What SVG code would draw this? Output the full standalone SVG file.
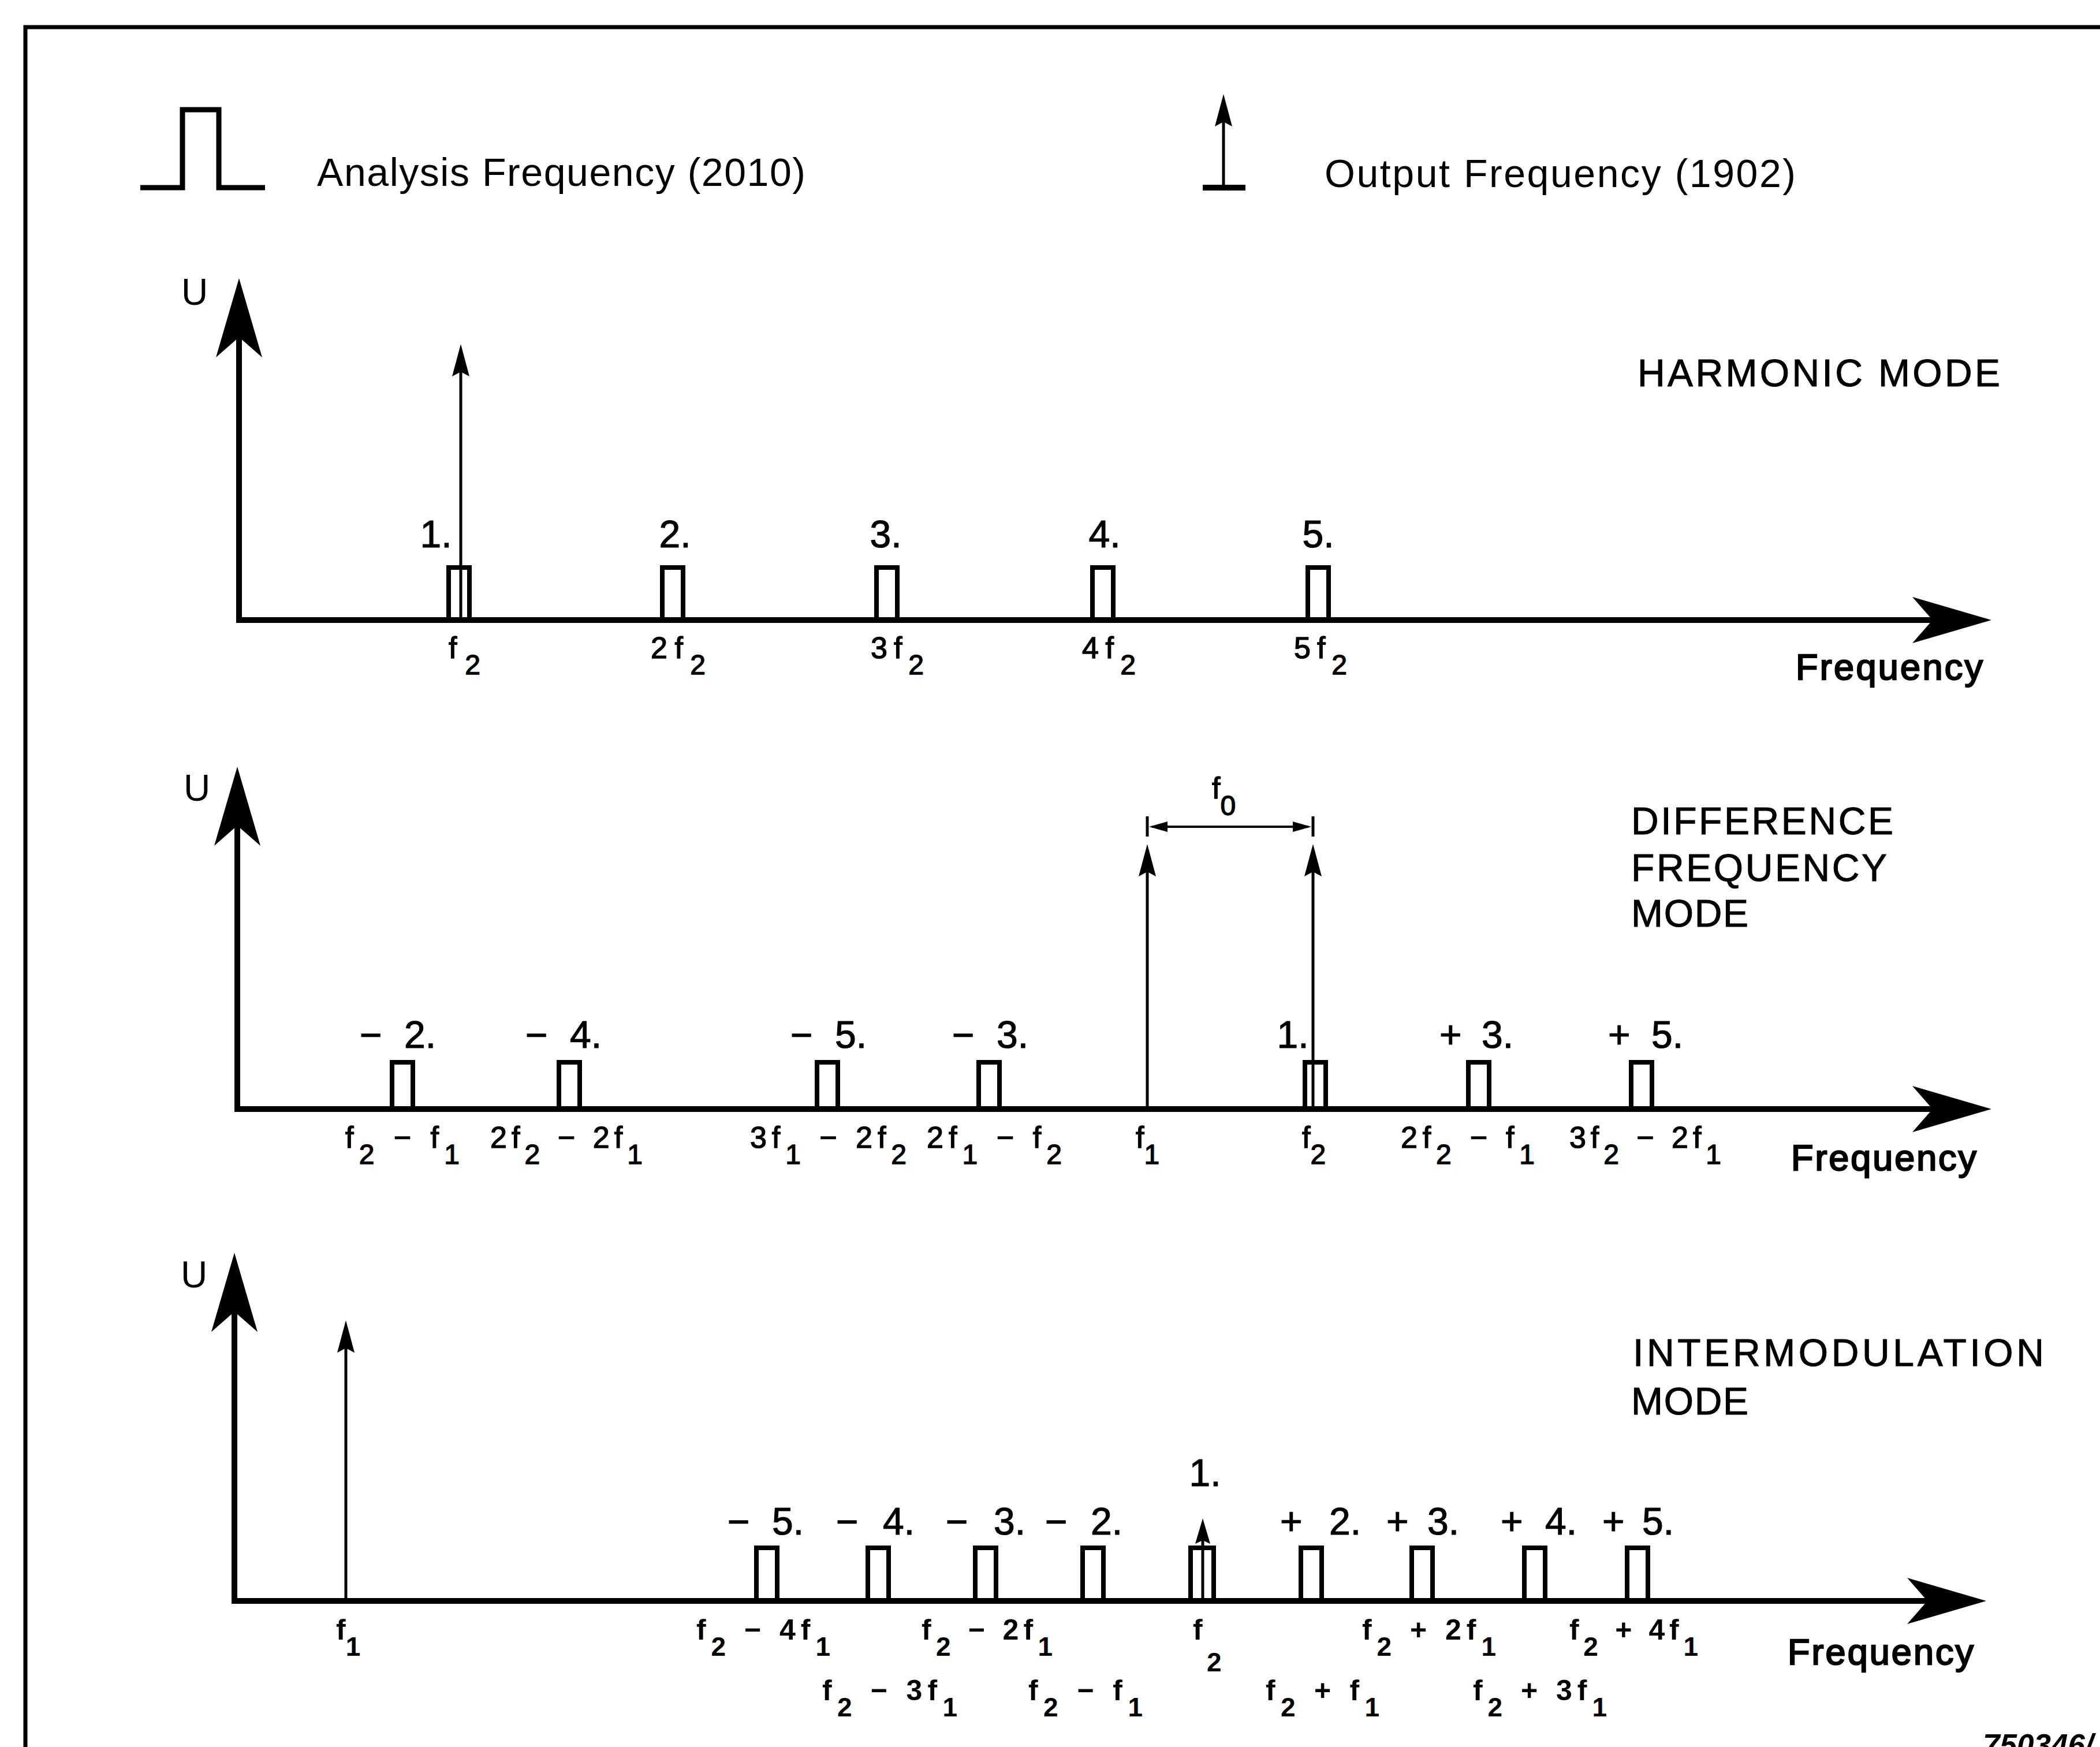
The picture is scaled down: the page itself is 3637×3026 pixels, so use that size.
<svg xmlns="http://www.w3.org/2000/svg" width="3637" height="3026" viewBox="0 0 3637 3026">
<style>
.fr{stroke:#000;stroke-width:7;fill:none}
.ax{stroke:#000;stroke-width:10;fill:none}
.pl{stroke:#000;stroke-width:8;fill:none;stroke-linejoin:miter}
.st{stroke:#000;stroke-width:5;fill:none}
.t{font-family:"Liberation Sans",Arial,Helvetica,sans-serif;fill:#000}
.lab{font-size:66px;stroke:#000;stroke-width:1.2}
.fl{font-size:52px;stroke:#000;stroke-width:1.4}
.fl3{font-size:50px;font-weight:bold}
.sub{font-size:48px}
.sub3{font-size:46px}
.ttl{font-size:66px;stroke:#000;stroke-width:1}
.leg{font-size:68px}
.frq{font-size:63px;stroke:#000;stroke-width:2.4}
.u{font-size:64px}
.mid{text-anchor:middle}
</style>
<defs>
<marker id="big" markerUnits="userSpaceOnUse" viewBox="-40 -45 150 90" markerWidth="150" markerHeight="90" refX="0" refY="0" orient="auto" overflow="visible">
<path d="M102,0 L-35,-40 L0,0 L-35,40 Z" fill="#000"/>
</marker>
<marker id="sm" markerUnits="userSpaceOnUse" viewBox="-10 -16 60 32" markerWidth="60" markerHeight="32" refX="0" refY="0" orient="auto" overflow="visible">
<path d="M48,0 L-8,-15 L0,0 L-8,15 Z" fill="#000"/>
</marker>
<marker id="sm2" markerUnits="userSpaceOnUse" viewBox="-10 -14 50 28" markerWidth="50" markerHeight="28" refX="0" refY="0" orient="auto" overflow="visible">
<path d="M38,0 L-6,-13 L0,0 L-6,13 Z" fill="#000"/>
</marker>
</defs>

<rect x="0" y="0" width="3637" height="3026" fill="#fff"/>

<g id="frame">
<path class="fr" d="M44,3026 V47 H3637"/>
</g>

<g id="legend">
<g id="legend-analysis">
<path d="M243,325 H316 V190 H379 V325 H459" stroke="#000" stroke-width="9" fill="none"/>
<text class="t leg" x="549" y="322" textLength="846" lengthAdjust="spacing">Analysis Frequency (2010)</text>
</g>
<g id="legend-output">
<line x1="2083" y1="325" x2="2157" y2="325" stroke="#000" stroke-width="10"/>
<line class="st" x1="2119" y1="325" x2="2119" y2="211" marker-end="url(#sm)"/>
<text class="t leg" x="2294" y="324" textLength="816" lengthAdjust="spacing">Output Frequency (1902)</text>
</g>
</g>

<g id="connectors">
<g id="axes">
<line class="ax" x1="414" y1="1074" x2="414" y2="584" marker-end="url(#big)"/>
<line class="ax" x1="409" y1="1074" x2="3347" y2="1074" marker-end="url(#big)"/>
<line class="ax" x1="411" y1="1921" x2="411" y2="1430" marker-end="url(#big)"/>
<line class="ax" x1="406" y1="1921" x2="3347" y2="1921" marker-end="url(#big)"/>
<line class="ax" x1="406" y1="2773" x2="406" y2="2272" marker-end="url(#big)"/>
<line class="ax" x1="401" y1="2773" x2="3338" y2="2773" marker-end="url(#big)"/>
</g>
<g id="output-arrows">
<line class="st" x1="798" y1="1074" x2="798" y2="644" marker-end="url(#sm)"/>
<line class="st" x1="1987" y1="1921" x2="1987" y2="1510" marker-end="url(#sm)"/>
<line class="st" x1="2274" y1="1921" x2="2274" y2="1510" marker-end="url(#sm)"/>
<line class="st" x1="599" y1="2773" x2="599" y2="2335" marker-end="url(#sm)"/>
<line class="st" x1="2083" y1="2773" x2="2083" y2="2668" marker-end="url(#sm2)"/>
</g>
<g id="f0-dimension">
<line x1="1995" y1="1432" x2="2266" y2="1432" stroke="#000" stroke-width="4"/>
<line class="st" x1="1987" y1="1414" x2="1987" y2="1449"/>
<line class="st" x1="2274" y1="1414" x2="2274" y2="1449"/>
<path d="M1990,1432 L2022,1423 L2022,1441 Z" fill="#000"/>
<path d="M2271,1432 L2239,1423 L2239,1441 Z" fill="#000"/>
</g>
</g>

<g id="harmonic-mode">
<text class="t u" x="314" y="528">U</text>
<text class="t ttl" x="2836" y="669" textLength="628" lengthAdjust="spacing">HARMONIC MODE</text>
<text class="t frq" x="3110" y="1177" textLength="324" lengthAdjust="spacing">Frequency</text>
<g id="h1"><path class="pl" d="M777,1074 V983 H813 V1074"/><text class="t lab mid" x="755" y="948">1.</text><text class="t fl" x="777" y="1140" textLength="55" lengthAdjust="spacing">f<tspan class="sub" dy="28">2</tspan></text></g>
<g id="h2"><path class="pl" d="M1147,1074 V983 H1183 V1074"/><text class="t lab mid" x="1169" y="948">2.</text><text class="t fl" x="1127" y="1140" textLength="95" lengthAdjust="spacing">2f<tspan class="sub" dy="28">2</tspan></text></g>
<g id="h3"><path class="pl" d="M1518,1074 V983 H1554 V1074"/><text class="t lab mid" x="1534" y="948">3.</text><text class="t fl" x="1508" y="1140" textLength="92" lengthAdjust="spacing">3f<tspan class="sub" dy="28">2</tspan></text></g>
<g id="h4"><path class="pl" d="M1892,1074 V983 H1928 V1074"/><text class="t lab mid" x="1913" y="948">4.</text><text class="t fl" x="1874" y="1140" textLength="93" lengthAdjust="spacing">4f<tspan class="sub" dy="28">2</tspan></text></g>
<g id="h5"><path class="pl" d="M2265,1074 V983 H2301 V1074"/><text class="t lab mid" x="2283" y="948">5.</text><text class="t fl" x="2241" y="1140" textLength="92" lengthAdjust="spacing">5f<tspan class="sub" dy="28">2</tspan></text></g>
</g>

<g id="difference-frequency-mode">
<text class="t u" x="318" y="1387">U</text>
<text class="t ttl" x="2825" y="1445" textLength="454" lengthAdjust="spacing">DIFFERENCE</text>
<text class="t ttl" x="2825" y="1526" textLength="443" lengthAdjust="spacing">FREQUENCY</text>
<text class="t ttl" x="2825" y="1605" textLength="203" lengthAdjust="spacing">MODE</text>
<text class="t frq" x="3102" y="2027" textLength="321" lengthAdjust="spacing">Frequency</text>
<text class="t fl" x="2099" y="1383" font-size="54">f<tspan class="sub" dy="29" font-size="48">0</tspan></text>
<g id="d-m2"><path class="pl" d="M679,1921 V1840 H715 V1921"/><text class="t lab mid" x="689" y="1815">− <tspan dx="20">2.</tspan></text><text class="t fl" x="598" y="1988" textLength="198" lengthAdjust="spacing">f<tspan class="sub" dy="28">2</tspan><tspan dy="-28"> − f</tspan><tspan class="sub" dy="28">1</tspan></text></g>
<g id="d-m4"><path class="pl" d="M968,1921 V1840 H1004 V1921"/><text class="t lab mid" x="976" y="1815">− <tspan dx="20">4.</tspan></text><text class="t fl" x="849" y="1988" textLength="264" lengthAdjust="spacing">2f<tspan class="sub" dy="28">2</tspan><tspan dy="-28"> − 2f</tspan><tspan class="sub" dy="28">1</tspan></text></g>
<g id="d-m5"><path class="pl" d="M1415,1921 V1840 H1451 V1921"/><text class="t lab mid" x="1435" y="1815">− <tspan dx="20">5.</tspan></text><text class="t fl" x="1299" y="1988" textLength="271" lengthAdjust="spacing">3f<tspan class="sub" dy="28">1</tspan><tspan dy="-28"> − 2f</tspan><tspan class="sub" dy="28">2</tspan></text></g>
<g id="d-m3"><path class="pl" d="M1695,1921 V1840 H1731 V1921"/><text class="t lab mid" x="1715" y="1815">− <tspan dx="20">3.</tspan></text><text class="t fl" x="1605" y="1988" textLength="234" lengthAdjust="spacing">2f<tspan class="sub" dy="28">1</tspan><tspan dy="-28"> − f</tspan><tspan class="sub" dy="28">2</tspan></text></g>
<g id="d-f1"><text class="t fl" x="1967" y="1988">f<tspan class="sub" dy="28">1</tspan></text></g>
<g id="d-1"><path class="pl" d="M2260,1921 V1840 H2296 V1921"/><text class="t lab mid" x="2239" y="1815">1.</text><text class="t fl" x="2255" y="1988">f<tspan class="sub" dy="28">2</tspan></text></g>
<g id="d-p3"><path class="pl" d="M2543,1921 V1840 H2579 V1921"/><text class="t lab mid" x="2557" y="1815">+ <tspan dx="16">3.</tspan></text><text class="t fl" x="2426" y="1988" textLength="232" lengthAdjust="spacing">2f<tspan class="sub" dy="28">2</tspan><tspan dy="-28"> − f</tspan><tspan class="sub" dy="28">1</tspan></text></g>
<g id="d-p5"><path class="pl" d="M2825,1921 V1840 H2861 V1921"/><text class="t lab mid" x="2850" y="1815">+ <tspan dx="18">5.</tspan></text><text class="t fl" x="2718" y="1988" textLength="263" lengthAdjust="spacing">3f<tspan class="sub" dy="28">2</tspan><tspan dy="-28"> − 2f</tspan><tspan class="sub" dy="28">1</tspan></text></g>
</g>

<g id="intermodulation-mode">
<text class="t u" x="313" y="2230">U</text>
<text class="t ttl" x="2828" y="2366" textLength="712" lengthAdjust="spacing">INTERMODULATION</text>
<text class="t ttl" x="2825" y="2450" textLength="203" lengthAdjust="spacing">MODE</text>
<text class="t frq" x="3096" y="2883" textLength="322" lengthAdjust="spacing">Frequency</text>
<g id="i-f1"><text class="t fl3" x="582" y="2840">f<tspan class="sub3" dy="28">1</tspan></text></g>
<g id="i-m5"><path class="pl" d="M1310,2773 V2681 H1346 V2773"/><text class="t lab mid" x="1326" y="2658">− <tspan dx="20">5.</tspan></text><text class="t fl3" x="1206" y="2840" textLength="232" lengthAdjust="spacing">f<tspan class="sub3" dy="28">2</tspan><tspan dy="-28"> − 4f</tspan><tspan class="sub3" dy="28">1</tspan></text></g>
<g id="i-m4"><path class="pl" d="M1503,2773 V2681 H1539 V2773"/><text class="t lab mid" x="1516" y="2658">− <tspan dx="24">4.</tspan></text><text class="t fl3" x="1424" y="2945" textLength="234" lengthAdjust="spacing">f<tspan class="sub3" dy="28">2</tspan><tspan dy="-28"> − 3f</tspan><tspan class="sub3" dy="28">1</tspan></text></g>
<g id="i-m3"><path class="pl" d="M1689,2773 V2681 H1725 V2773"/><text class="t lab mid" x="1707" y="2658">− <tspan dx="26">3.</tspan></text><text class="t fl3" x="1596" y="2840" textLength="227" lengthAdjust="spacing">f<tspan class="sub3" dy="28">2</tspan><tspan dy="-28"> − 2f</tspan><tspan class="sub3" dy="28">1</tspan></text></g>
<g id="i-m2"><path class="pl" d="M1875,2773 V2681 H1911 V2773"/><text class="t lab mid" x="1877" y="2658">− <tspan dx="22">2.</tspan></text><text class="t fl3" x="1781" y="2945" textLength="198" lengthAdjust="spacing">f<tspan class="sub3" dy="28">2</tspan><tspan dy="-28"> − f</tspan><tspan class="sub3" dy="28">1</tspan></text></g>
<g id="i-1"><path class="pl" d="M2062,2773 V2681 H2102 V2773"/><text class="t lab mid" x="2087" y="2574">1.</text><text class="t fl3" x="2066" y="2840">f<tspan class="sub3" x="2090" dy="55">2</tspan></text></g>
<g id="i-p2"><path class="pl" d="M2253,2773 V2681 H2289 V2773"/><text class="t lab mid" x="2287" y="2658">+ <tspan dx="28">2.</tspan></text><text class="t fl3" x="2192" y="2945" textLength="197" lengthAdjust="spacing">f<tspan class="sub3" dy="28">2</tspan><tspan dy="-28"> + f</tspan><tspan class="sub3" dy="28">1</tspan></text></g>
<g id="i-p3"><path class="pl" d="M2445,2773 V2681 H2481 V2773"/><text class="t lab mid" x="2464" y="2658">+ <tspan dx="14">3.</tspan></text><text class="t fl3" x="2359" y="2840" textLength="232" lengthAdjust="spacing">f<tspan class="sub3" dy="28">2</tspan><tspan dy="-28"> + 2f</tspan><tspan class="sub3" dy="28">1</tspan></text></g>
<g id="i-p4"><path class="pl" d="M2640,2773 V2681 H2676 V2773"/><text class="t lab mid" x="2665" y="2658">+ <tspan dx="20">4.</tspan></text><text class="t fl3" x="2551" y="2945" textLength="232" lengthAdjust="spacing">f<tspan class="sub3" dy="28">2</tspan><tspan dy="-28"> + 3f</tspan><tspan class="sub3" dy="28">1</tspan></text></g>
<g id="i-p5"><path class="pl" d="M2818,2773 V2681 H2854 V2773"/><text class="t lab mid" x="2837" y="2658">+ <tspan dx="12">5.</tspan></text><text class="t fl3" x="2718" y="2840" textLength="223" lengthAdjust="spacing">f<tspan class="sub3" dy="28">2</tspan><tspan dy="-28"> + 4f</tspan><tspan class="sub3" dy="28">1</tspan></text></g>
</g>

<g id="figure-number">
<text class="t" x="3434" y="3041" font-size="53" font-weight="bold" font-style="italic">750346/</text>
</g>
</svg>
